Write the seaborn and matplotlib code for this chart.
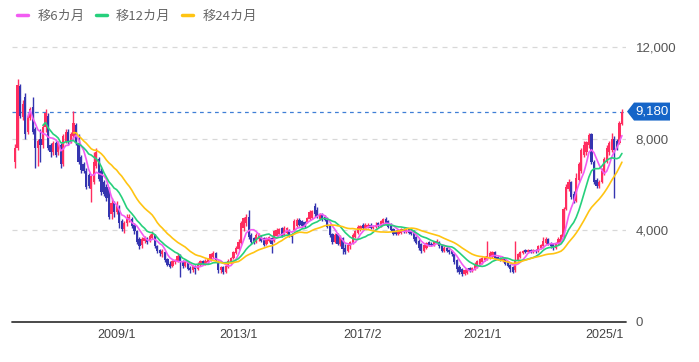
import numpy as np
import pandas as pd
import matplotlib
matplotlib.use("Agg")
import matplotlib.pyplot as plt
from matplotlib.patches import Polygon
from matplotlib.transforms import IdentityTransform
import seaborn as sns

# 月足データ (2005/9 から 240 本)
start_month = "2005-09-01"

opens = [
    7000, 7600, 10300, 8950, 9800, 8300, 8900, 9400, 8400, 7600, 8000, 7700,
    8500, 9000, 7700, 7400, 7800, 7400, 7700, 6900, 7900, 8300, 7850, 8100,
    8600, 7800, 7200, 6900, 6600, 6400, 5800, 6100, 6800, 7100, 6600, 6100,
    5900, 5800, 4700, 5200, 4800, 5000, 4400, 4050, 4300, 4450, 4500, 4250,
    3950, 3600, 3350, 3550, 3650, 3550, 3650, 3800, 3300, 3150, 2950, 3050,
    2750, 2550, 2450, 2600, 2650, 2900, 2650, 2450, 2600, 2350, 2250, 2450,
    2300, 2500, 2650, 2550, 2600, 2700, 2850, 3000, 2650, 2250, 2400, 2200,
    2400, 2600, 2800, 3000, 3200, 3450, 4100, 4300, 4600, 3800, 3650, 3500,
    3600, 3750, 3650, 3400, 3550, 3650, 3550, 3750, 3850, 4100, 3800, 3900,
    4000, 3850, 4000, 4200, 4450, 4400, 4350, 4350, 4500, 4550, 5050, 4900,
    4500, 4700, 4600, 4450, 4200, 3850, 3500, 3850, 3400, 3650, 3250, 3100,
    3300, 3450, 3700, 3900, 4050, 4250, 4100, 4150, 4250, 4100, 4150, 4300,
    4200, 4300, 4500, 4400, 4250, 4050, 3950, 3850, 3900, 4050, 3950, 4050,
    3950, 3950, 3700, 3550, 3400, 3100, 3250, 3500, 3400, 3350, 3450, 3500,
    3350, 3100, 3250, 3150, 3100, 2950, 2700, 2400, 2300, 2100, 2150, 2350,
    2250, 2300, 2400, 2500, 2600, 2700, 2750, 2800, 2850, 3050, 2850, 2800,
    2650, 2750, 2600, 2500, 2400, 2250, 2700, 2850, 3000, 3150, 3050, 3150,
    3050, 3150, 3100, 3250, 3300, 3450, 3600, 3450, 3400, 3250, 3400, 3500,
    3700, 4950, 5800, 6100, 5600, 5300, 6200, 6600, 7300, 7400, 7700, 8200,
    7000, 6200, 5950, 6100, 6500, 7000, 7400, 7500, 8000, 7900, 7800, 8650,
]

highs = [
    7750, 10600, 10400, 9700, 10000, 9100, 9400, 9800, 8500, 8000, 8400, 8600,
    9300, 9100, 7800, 7900, 7900, 7900, 7800, 8200, 8400, 8400, 8300, 9200,
    8700, 8200, 7300, 7000, 6700, 6500, 6400, 7400, 7600, 7200, 6700, 6200,
    6000, 5900, 5400, 5300, 5300, 5100, 4500, 4400, 4700, 4700, 4600, 4300,
    4000, 3700, 3700, 3750, 3700, 3850, 3950, 3850, 3350, 3200, 3200, 3100,
    2800, 2650, 2700, 2750, 3000, 2950, 2700, 2650, 2650, 2450, 2500, 2500,
    2600, 2700, 2700, 2750, 2800, 3000, 3100, 3050, 2700, 2450, 2450, 2550,
    2750, 2850, 3100, 3300, 3600, 4400, 4600, 4700, 4900, 3900, 3700, 3900,
    3900, 3800, 3700, 3700, 3750, 3700, 4000, 4100, 4100, 4150, 4200, 4150,
    4050, 3900, 4500, 4550, 4550, 4450, 4400, 4600, 4900, 4900, 5200, 5000,
    4750, 4750, 4650, 4600, 4250, 3900, 3900, 3900, 3800, 3700, 3400, 3450,
    3550, 3900, 4000, 4250, 4250, 4300, 4300, 4300, 4300, 4250, 4350, 4350,
    4450, 4550, 4600, 4450, 4300, 4100, 4000, 4050, 4100, 4100, 4100, 4100,
    4000, 4000, 3750, 3600, 3450, 3400, 3500, 3550, 3500, 3550, 3600, 3550,
    3400, 3300, 3300, 3200, 3150, 3000, 2750, 2500, 2350, 2300, 2350, 2400,
    2400, 2600, 2700, 2800, 2850, 2900, 3550, 3100, 3100, 3100, 2900, 2850,
    2800, 2800, 2650, 2550, 2450, 3550, 3000, 3100, 3150, 3200, 3200, 3200,
    3200, 3200, 3350, 3400, 3700, 3700, 3650, 3500, 3450, 3500, 3700, 3850,
    5000, 6000, 6250, 6150, 5700, 6500, 7000, 7600, 7900, 7900, 8260, 8250,
    7050, 6300, 6200, 6700, 7200, 7700, 7900, 8250, 8100, 8000, 8750, 9300,
]

lows = [
    6700, 7500, 8900, 8800, 8000, 8200, 8800, 8200, 6700, 6800, 7000, 7600,
    8300, 7500, 7200, 7300, 7200, 7300, 6700, 6800, 7800, 7700, 7800, 8000,
    7700, 6900, 6500, 6500, 5800, 5850, 5250, 6000, 6700, 6150, 5550, 5500,
    5300, 4500, 4500, 4600, 4700, 4100, 3950, 3900, 4200, 4350, 4100, 3850,
    3400, 3200, 3250, 3450, 3400, 3500, 3600, 3250, 3000, 2900, 2850, 2600,
    2450, 2350, 2400, 2550, 2600, 1950, 2350, 2400, 2250, 2150, 2200, 2100,
    2250, 2450, 2500, 2500, 2550, 2650, 2800, 2600, 2150, 2150, 2100, 2150,
    2350, 2550, 2750, 2950, 3150, 3400, 3950, 4200, 3600, 3400, 3400, 3450,
    3550, 3500, 3300, 3350, 3500, 3000, 3500, 3700, 3800, 3700, 3750, 3850,
    3700, 3450, 3950, 4150, 4200, 4100, 4100, 4300, 4450, 4500, 4600, 4550,
    4450, 4400, 4400, 4100, 3700, 3400, 3450, 3350, 3300, 2950, 2950, 3050,
    3200, 3400, 3650, 3850, 3950, 4000, 4050, 4100, 4050, 4050, 4100, 4150,
    4150, 4250, 4250, 4100, 3950, 3800, 3800, 3800, 3850, 3900, 3900, 3850,
    3800, 3550, 3400, 3150, 3000, 3050, 3200, 3300, 3300, 3300, 3400, 3250,
    3050, 3050, 3050, 2950, 2900, 2550, 2200, 2100, 2000, 2050, 2100, 2200,
    2200, 2250, 2350, 2450, 2550, 2650, 2700, 2750, 2800, 2750, 2700, 2650,
    2600, 2500, 2400, 2200, 2150, 2200, 2650, 2800, 2950, 3000, 3000, 3000,
    3000, 3000, 3050, 3200, 3250, 3400, 3350, 3250, 3150, 3200, 3350, 3450,
    3650, 4900, 5700, 5350, 5200, 5250, 6100, 6500, 7200, 7300, 7600, 6900,
    6000, 5850, 5850, 6050, 6400, 6950, 7300, 7400, 5400, 7500, 7750, 8600,
]

closes = [
    7600, 10350, 9000, 9500, 8200, 9000, 9300, 8300, 7600, 7900, 7700, 8500,
    9100, 7600, 7400, 7800, 7300, 7800, 6900, 8100, 8300, 7850, 8200, 8700,
    7800, 7000, 6650, 6600, 5900, 5950, 6350, 7000, 7400, 6250, 5650, 5600,
    5400, 4600, 5200, 4800, 5100, 4300, 4050, 4300, 4550, 4600, 4200, 3950,
    3500, 3300, 3600, 3650, 3500, 3750, 3850, 3300, 3100, 3000, 3100, 2700,
    2500, 2400, 2650, 2700, 2900, 2650, 2450, 2600, 2300, 2250, 2450, 2300,
    2550, 2650, 2550, 2650, 2750, 2950, 3000, 2700, 2250, 2400, 2200, 2450,
    2650, 2800, 3050, 3250, 3500, 4300, 4550, 4600, 3700, 3500, 3500, 3800,
    3850, 3550, 3350, 3650, 3700, 3400, 3950, 4000, 4050, 3750, 4100, 4100,
    3800, 3700, 4400, 4450, 4250, 4200, 4150, 4550, 4800, 4850, 4700, 4600,
    4700, 4500, 4450, 4150, 3800, 3500, 3800, 3400, 3700, 3200, 3050, 3350,
    3500, 3800, 3950, 4150, 4200, 4100, 4250, 4250, 4100, 4200, 4250, 4200,
    4400, 4500, 4300, 4150, 4000, 3850, 3850, 4000, 4050, 3950, 4050, 3900,
    3850, 3600, 3450, 3250, 3100, 3350, 3450, 3350, 3350, 3500, 3550, 3300,
    3100, 3250, 3100, 3050, 2950, 2600, 2300, 2200, 2100, 2250, 2300, 2250,
    2350, 2550, 2650, 2750, 2800, 2850, 2900, 3000, 3050, 2800, 2750, 2700,
    2750, 2550, 2450, 2300, 2200, 2700, 2950, 3050, 3100, 3050, 3150, 3050,
    3150, 3100, 3300, 3350, 3550, 3600, 3400, 3300, 3250, 3450, 3600, 3800,
    4950, 5900, 6100, 5450, 5300, 6300, 6900, 7500, 7700, 7850, 8150, 7000,
    6100, 5950, 6100, 6600, 7100, 7600, 7800, 8000, 7500, 7600, 8700, 9180,
]

tick_labels = ["2009/1", "2013/1", "2017/2", "2021/1", "2025/1"]
y_ticks = [0, 4000, 8000, 12000]
ma_windows = [6, 12, 24]
ma_names = ["移6カ月", "移12カ月", "移24カ月"]
ma_colors = ["#f25cf2", "#26d07c", "#ffc412"]
last_price = 9180

UP = "#ff2d5f"
DOWN = "#3535b0"

sns.set_theme(style="white")
plt.rcParams["font.family"] = ["Noto Sans CJK JP", "DejaVu Sans"]

df = pd.DataFrame({
    "date": pd.date_range(start_month, periods=len(closes), freq="MS"),
    "open": opens, "high": highs, "low": lows, "close": closes,
})
df["i"] = np.arange(len(df))
for w, name in zip(ma_windows, ma_names):
    df[name] = df["close"].rolling(w).mean()

fig = plt.figure(figsize=(6.99, 3.62), dpi=100)
ax = fig.add_axes([12 / 699, 40 / 362, 614 / 699, 298 / 362])

# グリッド
for v in y_ticks[1:]:
    ax.axhline(v, color="#d8d8d8", lw=0.9, ls=(0, (4, 4)), zorder=1)
ax.axhline(0, color="#3a3a3a", lw=1.3, zorder=5, clip_on=False)
ax.axhline(last_price, color="#3f7fd6", lw=0.9, ls=(0, (3, 3)), zorder=1)

# ローソク足
up = df["close"] >= df["open"]
cols = np.where(up, UP, DOWN)
ax.vlines(df["i"], df["low"], df["high"], colors=cols, lw=1.0, zorder=2)
body = (df["close"] - df["open"]).abs().clip(lower=30)
ax.bar(df["i"], body, bottom=df[["open", "close"]].min(axis=1), width=0.88,
       color=cols, linewidth=0, zorder=3)

# 移動平均
for name, col in zip(ma_names, ma_colors):
    sns.lineplot(data=df, x="i", y=name, color=col, lw=1.2, ax=ax,
                 label=name, zorder=4)

ax.set_xlim(-1.2, 240.6)
ax.set_ylim(0, 13000)

labels_dt = [pd.Timestamp(year=int(t.split("/")[0]), month=int(t.split("/")[1]), day=1)
             for t in tick_labels]
tick_pos = [int(df.index[df["date"] == d][0]) for d in labels_dt]
ax.set_xticks(tick_pos)
ax.set_xticklabels(tick_labels)
ax.set_yticks(y_ticks)
ax.set_yticklabels([f"{v:,}" for v in y_ticks])
ax.yaxis.tick_right()
ax.tick_params(axis="y", length=0, pad=7, labelsize=9.5, labelcolor="#555555")
ax.tick_params(axis="x", length=0, pad=5, labelsize=9, labelcolor="#444444")
for lbl in ax.get_xticklabels() + ax.get_yticklabels():
    lbl.set_fontfamily("Liberation Sans")
ax.set_xlabel("")
ax.set_ylabel("")
for s in ax.spines.values():
    s.set_visible(False)

# 凡例
handles, labels = ax.get_legend_handles_labels()
ax.get_legend().remove()
leg = fig.legend(handles, labels, loc="upper left", bbox_to_anchor=(0.008, 1.005),
                 ncol=3, frameon=False, fontsize=9.5, handlelength=0.8,
                 handletextpad=0.7, columnspacing=0.9, labelcolor="#666666")
for h in leg.legend_handles:
    h.set_linewidth(2.5)

# 現在値ラベル
fig.canvas.draw()
x0 = ax.transAxes.transform((1, 0))[0]
yc = ax.transData.transform((0, last_price))[1]
pts = [(x0 + 1, yc), (x0 + 8, yc + 9), (x0 + 44, yc + 9), (x0 + 44, yc - 9), (x0 + 8, yc - 9)]
fig.add_artist(Polygon(pts, closed=True, facecolor="#1565c8", edgecolor="none",
                       transform=IdentityTransform()))
fig.text(x0 + 26, yc, f"{last_price:,}", color="white", fontsize=9.5, ha="center",
         va="center", family="Liberation Sans", transform=IdentityTransform())

fig.savefig("out.png", dpi=100)
